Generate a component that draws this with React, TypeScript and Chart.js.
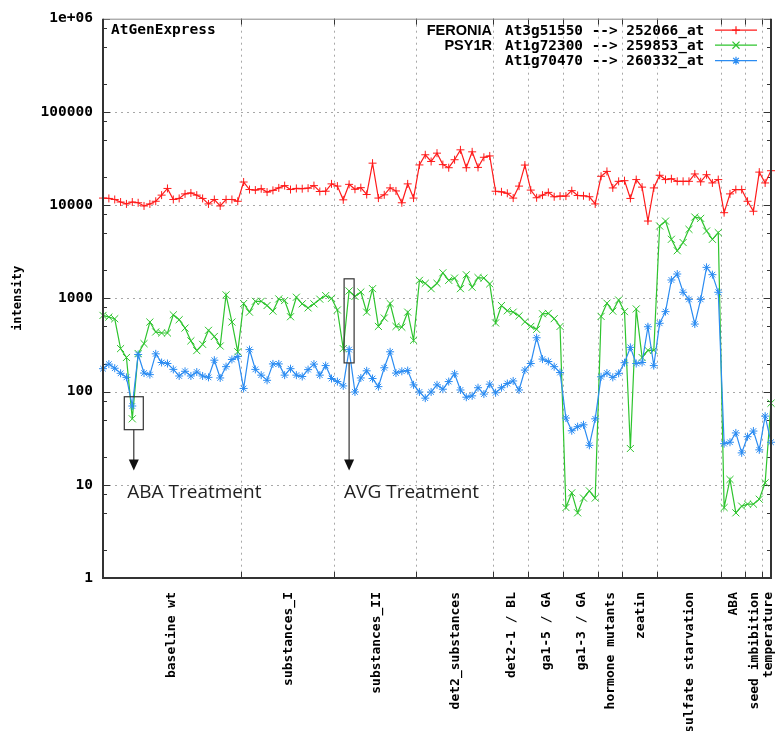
import React, { useEffect, useRef } from "react";
import { Chart, registerables } from "chart.js";

Chart.register(...registerables);

// ---------- data ----------
const groupNames = [
  "baseline wt", "substances_I", "substances_II", "det2_substances", "det2-1 / BL",
  "ga1-5 / GA", "ga1-3 / GA", "hormone mutants", "zeatin", "sulfate starvation",
  "ABA", "seed imbibition", "temperature",
];
const groupSizes = [24, 16, 14, 13, 6, 6, 6, 4, 6, 11, 4, 3, 2];

const feroniaValues = [
  11900, 11800, 11500, 10800, 10300, 10800, 10600, 9800, 10300, 11000, 12800, 15100, 11500, 11800, 13200, 13500, 12800, 11800, 10300, 11500, 9800, 11500, 11500, 11000,
  17700, 14700, 14500, 15000, 13800, 14400, 15300, 16200, 14700, 15100, 15000, 15200, 16200, 14000, 14100, 16900,
  16000, 11400, 16700, 14800, 15400, 13000, 28200, 11900, 12900, 15300, 14200, 10600, 16900, 11900,
  27000, 34700, 29400, 36100, 27200, 25200, 30700, 39200, 25200, 37300, 25400, 32600, 33700,
  14100, 13900, 13400, 11900, 16000, 26900,
  14500, 12000, 12800, 13700, 12300, 12500,
  12500, 14300, 12700, 12600, 12300, 10300,
  20400, 23000, 15300, 18000,
  18300, 11800, 18800, 15600, 6750, 15300,
  20900, 18800, 19200, 18000, 18000, 18000, 21600, 17800, 21200, 17300, 18800,
  8300, 13200, 14700, 14700,
  11000, 8600, 22600,
  17300, 23400,
];

const psy1rValues = [
  656, 630, 604, 289, 232, 51, 256, 327, 557, 436, 425, 425, 665, 590, 480, 350, 275, 321, 454, 390, 308, 1090, 557, 267,
  880, 711, 930, 930, 838, 729, 986, 948, 635, 1028, 873, 790, 873, 980, 1071, 1000,
  750, 289, 1200, 1050, 1170, 711, 1270, 500, 615, 880, 500, 490, 711, 355,
  1560, 1450, 1270, 1450, 1880, 1560, 1650, 1270, 1790, 1315, 1670, 1650, 1430,
  545, 838, 735, 711, 650, 560,
  500, 465, 683, 690, 605, 500,
  5.7, 8.2, 5.0, 7.2, 8.6, 7.2,
  640, 887, 729, 960,
  720, 24.5, 770, 232, 277, 277,
  5970, 6740, 4300, 3240, 3970, 5500, 7450, 7210, 5280, 4300, 5070,
  5.7, 11.4, 5.0, 5.9,
  6.2, 6.2, 7.0,
  10.5, 75,
];

const at1g70470Values = [
  176, 197, 178, 157, 142, 70, 250, 158, 152, 254, 205, 200, 173, 147, 165, 147, 162, 147, 142, 217, 140, 185, 221, 238,
  108, 282, 173, 150, 132, 198, 198, 150, 176, 150, 145, 172, 197, 150, 190, 138,
  128, 115, 282, 99, 140, 167, 138, 113, 180, 267, 158, 165, 168, 118,
  99, 85, 99, 118, 106, 128, 155, 104, 87, 90, 110, 94, 120,
  97, 110, 122, 130, 104, 170,
  200, 378, 223, 210, 185, 160,
  52, 38, 42, 44, 26.5, 51,
  144, 158, 142, 157,
  204, 298, 200, 205, 496, 190,
  540, 720, 1574, 1824, 1162, 975, 530, 975, 2150, 1795, 1162,
  27.6, 28.6, 36, 22,
  32.8, 37.7, 23.7,
  54.5, 28.6,
];

const yTickValues = [1, 10, 100, 1000, 10000, 100000, 1000000];
const yTickLabels = ["1", "10", "100", "1000", "10000", "100000", "1e+06"];
const minorMultipliers = [2, 5, 8];

const geneNames = ["FERONIA", "PSY1R", ""];
const probeLabels = ["At3g51550 --> 252066_at", "At1g72300 --> 259853_at", "At1g70470 --> 260332_at"];
const seriesColors = ["#ff1a1a", "#2ec42e", "#2b8cf2"];
const seriesMarkers = ["cross", "crossRot", "star"];
const seriesRadius = [4, 5, 4];

const chartTitle = "AtGenExpress";
const yTitle = "intensity";

const treatments = [
  { label: "ABA Treatment", index: 5, low: 39, high: 88, arrowTo: 14.2, halfLeft: 8, halfRight: 11, lineDx: 1.5 },
  { label: "AVG Treatment", index: 42, low: 203, high: 1620, arrowTo: 14.2, halfLeft: 5, halfRight: 5, lineDx: 0 },
];

// ---------- helpers ----------
const MONO = "'DejaVu Sans Mono', 'Liberation Mono', monospace";
const N = feroniaValues.length;

const boundaries: number[] = [];
const groupCenters: number[] = [];
{
  let start = 0;
  groupSizes.forEach((s, k) => {
    const end = start + s - 1;
    groupCenters.push((start + end) / 2);
    if (k < groupSizes.length - 1) boundaries.push(end + 0.5);
    start += s;
  });
}

function drawMarker(ctx: CanvasRenderingContext2D, style: string, x: number, y: number, r: number) {
  ctx.beginPath();
  if (style === "cross" || style === "star") {
    ctx.moveTo(x - r, y); ctx.lineTo(x + r, y);
    ctx.moveTo(x, y - r); ctx.lineTo(x, y + r);
  }
  if (style === "crossRot" || style === "star") {
    const d = r * Math.SQRT1_2;
    ctx.moveTo(x - d, y - d); ctx.lineTo(x + d, y + d);
    ctx.moveTo(x - d, y + d); ctx.lineTo(x + d, y - d);
  }
  ctx.stroke();
}

const decorPlugin = {
  id: "gnuplotDecor",
  beforeDatasetsDraw(chart: any) {
    const { ctx, chartArea: a, scales } = chart;
    const x = scales.x, y = scales.y;
    ctx.save();
    // dotted grid
    ctx.strokeStyle = "#a8a8a8";
    ctx.lineWidth = 1;
    ctx.setLineDash([2, 4]);
    for (const v of yTickValues) {
      if (v <= 1 || v >= 1e6) continue;
      const py = Math.round(y.getPixelForValue(v)) + 0.5;
      ctx.beginPath(); ctx.moveTo(a.left, py); ctx.lineTo(a.right, py); ctx.stroke();
    }
    for (const b of boundaries) {
      const px = Math.round(x.getPixelForValue(b)) + 0.5;
      ctx.beginPath(); ctx.moveTo(px, a.top); ctx.lineTo(px, a.bottom); ctx.stroke();
    }
    ctx.setLineDash([]);
    // tick marks
    ctx.strokeStyle = "#333";
    ctx.lineWidth = 1;
    const tick = (x1: number, y1: number, x2: number, y2: number) => {
      ctx.beginPath(); ctx.moveTo(x1, y1); ctx.lineTo(x2, y2); ctx.stroke();
    };
    for (const v of yTickValues) {
      const py = Math.round(y.getPixelForValue(v)) + 0.5;
      tick(a.left, py, a.left + 7, py);
      tick(a.right, py, a.right - 7, py);
    }
    for (let k = 0; k < yTickValues.length - 1; k++) {
      for (const m of minorMultipliers) {
        const py = Math.round(y.getPixelForValue(yTickValues[k] * m)) + 0.5;
        tick(a.left, py, a.left + 4, py);
        tick(a.right, py, a.right - 4, py);
      }
    }
    for (const b of boundaries) {
      const px = Math.round(x.getPixelForValue(b)) + 0.5;
      tick(px, a.bottom, px, a.bottom - 6);
      tick(px, a.top, px, a.top + 6);
    }
    ctx.restore();
  },
  afterDatasetsDraw(chart: any) {
    const { ctx, chartArea: a, scales } = chart;
    const x = scales.x, y = scales.y;
    ctx.save();
    // border
    ctx.strokeStyle = "#888";
    ctx.lineWidth = 1;
    ctx.beginPath(); ctx.moveTo(a.left, a.top + 0.5); ctx.lineTo(a.right, a.top + 0.5); ctx.stroke();
    ctx.strokeStyle = "#333";
    ctx.lineWidth = 2;
    ctx.beginPath();
    ctx.moveTo(a.left, a.top); ctx.lineTo(a.left, a.bottom); ctx.lineTo(a.right, a.bottom); ctx.lineTo(a.right, a.top);
    ctx.stroke();

    // title inside plot
    ctx.fillStyle = "#000";
    ctx.font = `bold 14.5px ${MONO}`;
    ctx.textAlign = "left";
    ctx.textBaseline = "middle";
    ctx.fillText(chartTitle, a.left + 8, a.top + 12);

    // legend
    const rows = [a.top + 11.5, a.top + 26.5, a.top + 42];
    for (let k = 0; k < 3; k++) {
      const ry = rows[k];
      if (geneNames[k]) {
        ctx.font = "bold 14.5px 'Liberation Sans', Arial, sans-serif";
        ctx.textAlign = "right";
        ctx.fillStyle = "#000";
        ctx.fillText(geneNames[k], 492, ry + 1);
      }
      ctx.font = `bold 14.4px ${MONO}`;
      ctx.textAlign = "left";
      ctx.fillText(probeLabels[k], 505, ry + 1);
      ctx.strokeStyle = seriesColors[k];
      ctx.lineWidth = 1.2;
      ctx.beginPath(); ctx.moveTo(715, ry); ctx.lineTo(757, ry); ctx.stroke();
      drawMarker(ctx, seriesMarkers[k], 736, ry, seriesRadius[k]);
    }

    // treatment annotations
    for (const t of treatments) {
      const px = x.getPixelForValue(t.index);
      const top = y.getPixelForValue(t.high);
      const bot = y.getPixelForValue(t.low);
      const tip = y.getPixelForValue(t.arrowTo);
      ctx.strokeStyle = "#333";
      ctx.lineWidth = 1.2;
      ctx.strokeRect(px - t.halfLeft, top, t.halfLeft + t.halfRight, bot - top);
      const lx = px + t.lineDx;
      ctx.beginPath(); ctx.moveTo(lx, bot); ctx.lineTo(lx, tip - 8); ctx.stroke();
      ctx.fillStyle = "#111";
      ctx.beginPath(); ctx.moveTo(lx - 5, tip - 11); ctx.lineTo(lx + 5, tip - 11); ctx.lineTo(lx, tip); ctx.closePath(); ctx.fill();
      ctx.fillStyle = "#222";
      ctx.font = "19px 'Open Sans', 'Noto Sans', sans-serif";
      ctx.textAlign = "left";
      ctx.textBaseline = "middle";
      ctx.fillText(t.label, px - 5, tip + 22);
    }

    // x category labels (rotated)
    ctx.fillStyle = "#000";
    ctx.font = `bold 13px ${MONO}`;
    ctx.textAlign = "right";
    ctx.textBaseline = "middle";
    groupNames.forEach((name, k) => {
      const px = x.getPixelForValue(groupCenters[k]) + 1;
      ctx.save();
      ctx.translate(px, a.bottom + 14);
      ctx.rotate(-Math.PI / 2);
      ctx.fillText(name, 0, 0);
      ctx.restore();
    });

    // y title
    ctx.font = `bold 12px ${MONO}`;
    ctx.textAlign = "center";
    ctx.save();
    ctx.translate(18, (a.top + a.bottom) / 2);
    ctx.rotate(-Math.PI / 2);
    ctx.fillText(yTitle, 0, 0);
    ctx.restore();

    ctx.restore();
  },
};

export default function App() {
  const ref = useRef<HTMLCanvasElement>(null);

  useEffect(() => {
    const canvas = ref.current;
    if (!canvas) return;
    const seriesValues = [feroniaValues, psy1rValues, at1g70470Values];
    const chart = new Chart(canvas, {
      type: "line",
      data: {
        datasets: seriesValues.map((vals, k) => ({
          label: probeLabels[k],
          data: vals.map((v, i) => ({ x: i, y: v })),
          borderColor: seriesColors[k],
          backgroundColor: seriesColors[k],
          borderWidth: 1.2,
          pointStyle: seriesMarkers[k] as any,
          pointRadius: seriesRadius[k],
          pointBorderWidth: 1,
          pointBorderColor: seriesColors[k],
          pointHoverRadius: seriesRadius[k],
          tension: 0,
          fill: false,
          clip: false as any,
          order: 3 - k,
        })),
      },
      options: {
        responsive: false,
        animation: false,
        devicePixelRatio: 1,
        events: [],
        layout: { padding: { left: 0, right: 3, top: 17, bottom: 0 } },
        plugins: { legend: { display: false }, tooltip: { enabled: false } },
        scales: {
          x: {
            type: "linear",
            min: 0,
            max: N - 1,
            grid: { display: false, drawTicks: false },
            border: { display: false },
            ticks: { display: false },
            afterFit: (s: any) => { s.height = 153; },
          },
          y: {
            type: "logarithmic",
            min: 1,
            max: 1000000,
            grid: { display: false, drawTicks: false },
            border: { display: false },
            ticks: {
              color: "#000",
              padding: 10,
              font: { family: MONO, size: 14.5, weight: "bold" },
              callback: (v: any) => {
                const idx = yTickValues.indexOf(Number(v));
                return idx >= 0 ? yTickLabels[idx] : "";
              },
            },
            afterBuildTicks: (s: any) => { s.ticks = yTickValues.map((v) => ({ value: v })); },
            afterFit: (s: any) => { s.width = 103; },
          },
        },
      } as any,
      plugins: [decorPlugin],
    });
    return () => chart.destroy();
  }, []);

  return (
    <div style={{ position: "absolute", left: 0, top: 0, width: 777, height: 731, background: "#fff" }}>
      <canvas ref={ref} width={777} height={731} style={{ display: "block", width: 777, height: 731 }} />
    </div>
  );
}
